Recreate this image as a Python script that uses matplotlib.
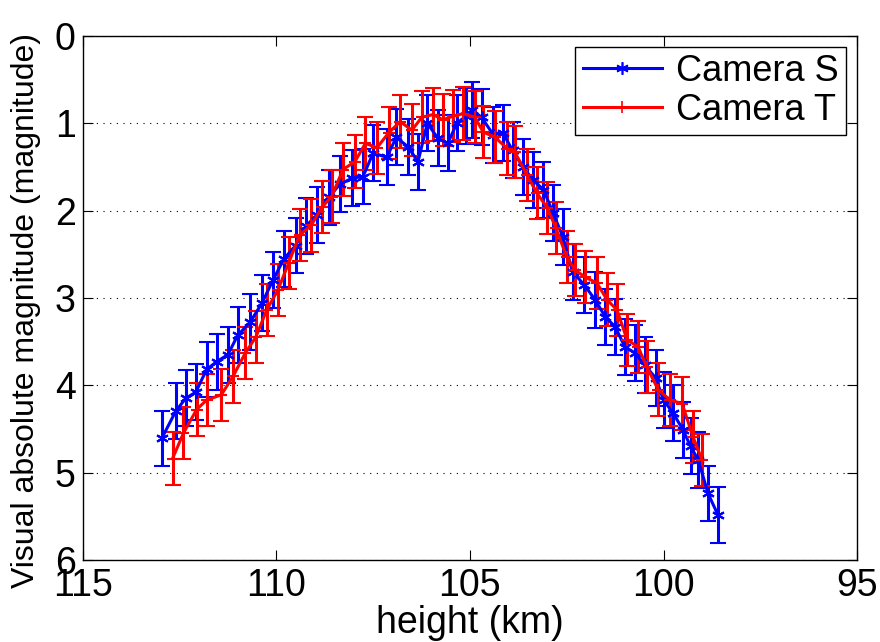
import numpy as np
import matplotlib
matplotlib.use("Agg")
import matplotlib.pyplot as plt
from matplotlib.lines import Line2D

plt.rcParams['font.family'] = ['Liberation Sans', 'DejaVu Sans']

# Camera S (blue)
height_s = [112.96, 112.60, 112.34, 112.08, 111.80, 111.54, 111.25, 111.00, 110.68, 110.37,
            110.09, 109.80, 109.50, 109.24, 108.95, 108.65, 108.36, 108.05, 107.76, 107.50,
            107.15, 106.90, 106.60, 106.34, 106.10, 105.83, 105.57, 105.34, 105.10, 104.95,
            104.70, 104.40, 104.15, 103.90, 103.63, 103.37, 103.10, 102.85, 102.60, 102.35,
            102.05, 101.77, 101.50, 101.25, 101.00, 100.74, 100.48, 100.20, 100.00, 99.75,
            99.50, 99.30, 99.10, 98.85, 98.59]
mag_s = [4.61, 4.30, 4.15, 4.08, 3.82, 3.73, 3.65, 3.43, 3.28, 3.06,
         2.80, 2.55, 2.40, 2.18, 2.05, 1.85, 1.70, 1.63, 1.61, 1.34,
         1.39, 1.16, 1.27, 1.44, 1.00, 1.17, 1.23, 1.00, 0.92, 0.85,
         0.93, 1.13, 1.11, 1.31, 1.50, 1.65, 1.76, 2.03, 2.30, 2.70,
         2.85, 3.02, 3.22, 3.33, 3.56, 3.63, 3.77, 3.92, 4.17, 4.32,
         4.51, 4.70, 4.86, 5.24, 5.49]
err_s = 0.32

# Camera T (red)
height_t = [112.68, 112.40, 112.06, 111.80, 111.42, 111.12, 110.80, 110.53, 110.25, 109.96,
            109.68, 109.40, 109.10, 108.82, 108.57, 108.28, 107.97, 107.70, 107.40, 107.10,
            106.80, 106.50, 106.24, 105.95, 105.70, 105.44, 105.18, 104.87, 104.66, 104.35,
            104.04, 103.84, 103.53, 103.27, 103.00, 102.78, 102.50, 102.29, 102.03, 101.72,
            101.46, 101.20, 100.94, 100.66, 100.43, 100.14, 99.83, 99.52, 99.24, 99.00]
mag_t = [4.84, 4.55, 4.28, 4.17, 4.11, 3.90, 3.63, 3.45, 3.14, 2.91,
         2.60, 2.28, 2.17, 1.96, 1.84, 1.53, 1.44, 1.23, 1.28, 1.11,
         0.98, 1.08, 0.93, 0.90, 0.96, 0.92, 0.89, 0.93, 1.10, 1.16,
         1.29, 1.33, 1.59, 1.80, 1.97, 2.20, 2.53, 2.68, 2.76, 2.83,
         3.02, 3.14, 3.48, 3.56, 3.79, 4.05, 4.17, 4.21, 4.59, 4.86]
err_t = 0.30

x_ticks = [115, 110, 105, 100, 95]
y_ticks = [0, 1, 2, 3, 4, 5, 6]

# matlab style asterisk marker
star = (6, 2, 0)

fig = plt.figure(figsize=(8.8, 6.42), dpi=100)
ax = fig.add_axes([0.094, 0.128, 0.880, 0.816])

ax.errorbar(height_s, mag_s, yerr=err_s, color='blue', marker=star, markersize=9,
            markeredgewidth=1.5, linewidth=2.2, elinewidth=2.2, capsize=5.5, capthick=2.2)
ax.errorbar(height_t, mag_t, yerr=err_t, color='red', marker='+', markersize=9,
            markeredgewidth=1.5, linewidth=2.2, elinewidth=2.2, capsize=5.5, capthick=2.2)

ax.set_xlim(115, 95)
ax.set_ylim(6, 0)
ax.set_xticks(x_ticks)
ax.set_yticks(y_ticks)
ax.tick_params(direction='in', labelsize=27, length=7, top=True, right=True)
ax.tick_params(axis='x', pad=6)
ax.tick_params(axis='y', pad=5)
ax.yaxis.grid(True, linestyle=(0, (1, 5)), color='black', linewidth=0.8)
for s in ax.spines.values():
    s.set_linewidth(1)

ax.set_xlabel('height (km)', fontsize=27)
ax.xaxis.set_label_coords(0.5, -0.086)

ax.set_ylabel('Visual absolute magnitude (magnitude)', fontsize=23)
ax.yaxis.set_label_coords(-0.054, 0.475)

handles = [Line2D([], [], color='blue', marker=star, markersize=9, markeredgewidth=1.2, linewidth=2.2),
           Line2D([], [], color='red', marker='+', markersize=9, markeredgewidth=1.2, linewidth=2.2)]
leg = ax.legend(handles, ['Camera S', 'Camera T'], loc='upper right', fontsize=26,
                fancybox=False, edgecolor='black', framealpha=1, borderpad=0.2,
                handlelength=2.2, handletextpad=0.4, labelspacing=0.1, borderaxespad=0.3)
leg.get_frame().set_linewidth(1)

fig.savefig('out.png', dpi=100)
